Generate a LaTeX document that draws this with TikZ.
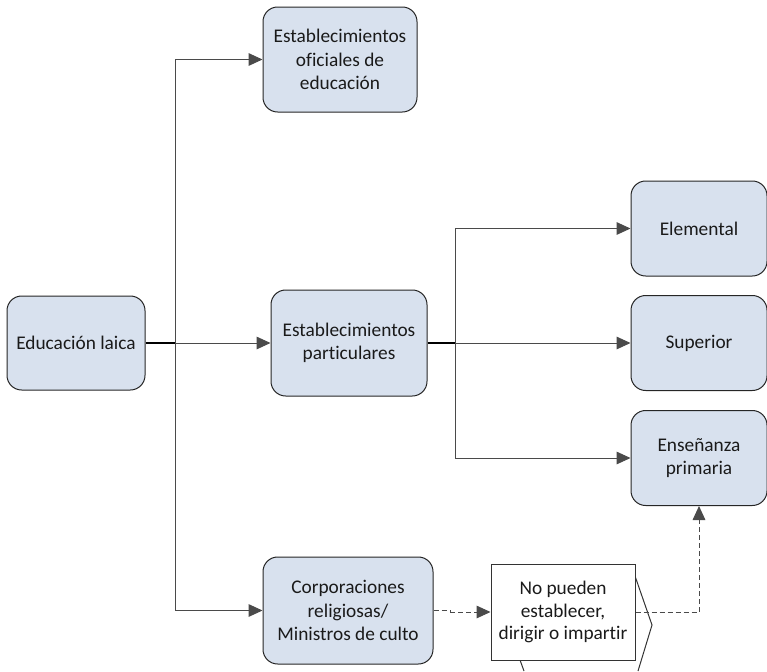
\documentclass[tikz,border=0pt]{standalone}
\usepackage{fontspec}
\setmainfont{Carlito}[Ligatures=NoCommon]
\usetikzlibrary{arrows.meta}
\definecolor{boxfill}{HTML}{D8E1EE}
\definecolor{linegray}{HTML}{4A4A4A}
\definecolor{txt}{HTML}{1A1A1A}
\begin{document}
\begin{tikzpicture}[x=0.75pt,y=-0.75pt,
  box/.style={draw=black!85, fill=boxfill, rounded corners=11pt, align=center, inner sep=0pt, line width=0.75pt, text=txt, font=\fontsize{14.5}{17.5}\selectfont},
  plainbox/.style={draw=black!80, fill=white, align=center, inner sep=0pt, line width=0.75pt, text=txt, font=\fontsize{14.5}{16.8}\selectfont},
  conn/.style={draw=linegray, line width=0.75pt},
  stem/.style={draw=black, line width=1.4pt},
  arr/.style={conn, -{Triangle[length=10.5pt,width=9.5pt]}},
  dline/.style={draw=linegray, line width=0.75pt, dash pattern=on 3.75pt off 2.25pt},
  darr/.style={dline, -{Triangle[length=10.5pt,width=9.5pt]}}
]
\useasboundingbox (0,0) rectangle (767,671);

\node[box, minimum width=103.5pt, minimum height=70.5pt] (edu) at (76,343) {Educación laica};
\node[box, minimum width=115.5pt, minimum height=78.75pt] (ofic) at (340,59.5) {Establecimientos\\oficiales de\\educación};
\node[box, minimum width=117pt, minimum height=79.5pt] (part) at (349,343) {Establecimientos\\particulares};
\node[box, minimum width=127.5pt, minimum height=80.25pt] (corp) at (348,610.5) {Corporaciones\\religiosas/\\Ministros de culto};
\node[box, minimum width=102pt, minimum height=71.25pt] (elem) at (699,228.5) {Elemental};
\node[box, minimum width=102pt, minimum height=71.25pt] (sup) at (699,343) {Superior};
\node[box, minimum width=102pt, minimum height=71.25pt] (prim) at (699,458) {Enseñanza\\primaria};

% chevron shape partly hidden behind the text box
\draw[draw=black!80, line width=0.75pt] (635,576) -- (652,625) -- (638,671);
\draw[draw=black!80, line width=0.75pt] (520,660) -- (524,671);
\node[plainbox, minimum width=108pt, minimum height=72pt] (no) at (563,612) {No pueden\\establecer,\\dirigir o impartir};

\coordinate (t1) at (175,343);
\coordinate (t2) at (455,343);
\coordinate (j1) at (450,612);

\draw[stem] (edu.east) -- (t1);
\draw[arr] (t1) -- (part.west);
\draw[arr] (t1) |- (ofic.west);
\draw[arr] (t1) |- (corp.west);

\draw[stem] (part.east) -- (t2);
\draw[arr] (t2) -- (sup.west);
\draw[arr] (t2) |- (elem.west);
\draw[arr] (t2) |- (prim.west);

\draw[dline] (corp.east) -| (j1);
\draw[darr] (j1) -- (no.west);
\draw[darr] (no.east) -| (prim.south);
\end{tikzpicture}
\end{document}
